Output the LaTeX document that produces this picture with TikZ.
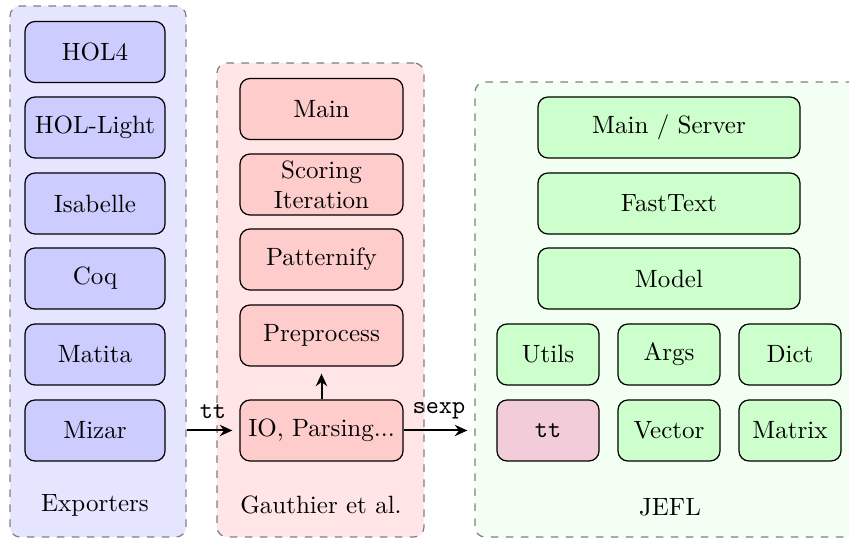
\documentclass[tikz,border=0pt]{standalone}
\usetikzlibrary{arrows.meta}
\begin{document}
\begin{tikzpicture}[x=0.4pt,y=-0.4pt,
  group/.style={draw=gray, dashed, rounded corners=4pt, inner sep=0pt, line width=0.5pt},
  mod/.style={draw=black, rounded corners=4pt, inner sep=0pt, align=center, minimum height=24.4pt, line width=0.5pt},
  expbox/.style={mod, fill=blue!20, minimum width=56pt},
  gaubox/.style={mod, fill=red!20, minimum width=65.2pt},
  jwide/.style={mod, fill=green!20, minimum width=104.8pt},
  jsmall/.style={mod, fill=green!20, minimum width=40.8pt},
  ttbox/.style={mod, fill=purple!20, minimum width=40.8pt},
  flow/.style={-{Stealth[length=5pt,width=4.5pt]}, thick, shorten >=2.8pt},
  lbl/.style={inner sep=0pt}
]
\useasboundingbox (0,0) rectangle (849,538);
% groups
\node[group, fill=blue!10, minimum width=70.4pt, minimum height=212.4pt] (exp) at (98,271.5) {};
\node[group, fill=red!10, minimum width=82.8pt, minimum height=189.6pt] (gau) at (320.5,300) {};
\node[group, fill=green!5, minimum width=155.2pt, minimum height=182pt] (jefl) at (669,309.5) {};
% exporters
\node[expbox] (hol4) at (95,52) {HOL4};
\node[expbox] (holl) at (95,127.5) {HOL-Light};
\node[expbox] (isa) at (95,203.5) {Isabelle};
\node[expbox] (coq) at (95,278.5) {Coq};
\node[expbox] (mat) at (95,354.5) {Matita};
\node[expbox] (miz) at (95,430.5) {Mizar};
\node[lbl] (explbl) at (95,505) {Exporters};
% Gauthier
\node[gaubox] (gmain) at (321.5,109) {Main};
\node[gaubox] (score) at (321.5,184.5) {Scoring\\Iteration};
\node[gaubox] (patt) at (321.5,259.5) {Patternify};
\node[gaubox] (prep) at (321.5,335.5) {Preprocess};
\node[gaubox] (io) at (321.5,430.5) {IO, Parsing...};
\node[lbl] (gaulbl) at (321,505) {Gauthier et al.};
% JEFL
\node[jwide] (jmain) at (669,127.5) {Main / Server};
\node[jwide] (ft) at (669,203.5) {FastText};
\node[jwide] (model) at (669,278.5) {Model};
\node[jsmall] (utils) at (548,354.5) {Utils};
\node[jsmall] (args) at (669,354.5) {Args};
\node[jsmall] (dict) at (790,354.5) {Dict};
\node[ttbox] (tt) at (548,430.5) {\texttt{tt}};
\node[jsmall] (vec) at (669,430.5) {Vector};
\node[jsmall] (matx) at (790,430.5) {Matrix};
\node[lbl] (jefllbl) at (670,507) {JEFL};
% arrows
\draw[flow] (io.west -| exp.east) -- node[above=1pt] {\texttt{tt}} (io.west);
\draw[flow] (io.east) -- node[above=1pt] {\texttt{sexp}} (io.east -| jefl.west);
\draw[flow] (io.north) -- (prep.south);
\end{tikzpicture}
\end{document}
